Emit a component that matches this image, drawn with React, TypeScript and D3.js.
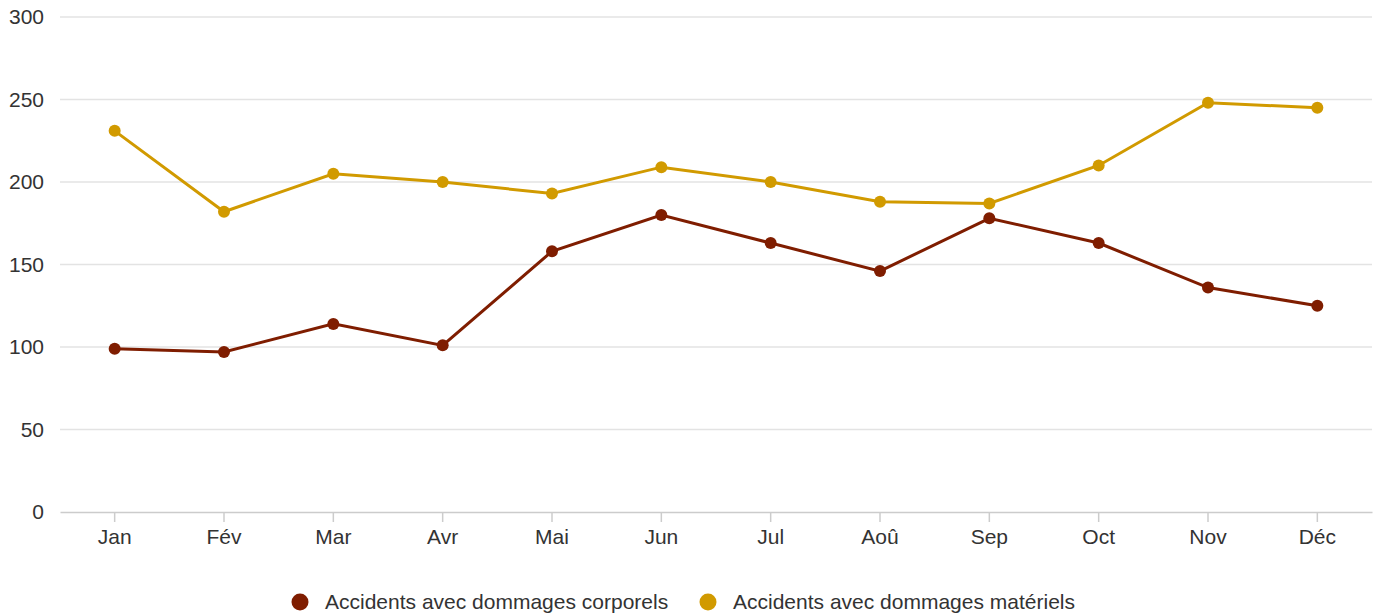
import React, { useRef, useEffect } from 'react';
import * as d3 from 'd3';

const months = ['Jan', 'Fév', 'Mar', 'Avr', 'Mai', 'Jun', 'Jul', 'Aoû', 'Sep', 'Oct', 'Nov', 'Déc'];
const corporels = [99, 97, 114, 101, 158, 180, 163, 146, 178, 163, 136, 125];
const materiels = [231, 182, 205, 200, 193, 209, 200, 188, 187, 210, 248, 245];
const yTicks = [0, 50, 100, 150, 200, 250, 300];

const seriesNames = ['Accidents avec dommages corporels', 'Accidents avec dommages matériels'];
const seriesColors = ['#7f1d00', '#d19a00'];

const width = 1377;
const height = 616;
const margin = { top: 17, right: 5, bottom: 104, left: 60 };

export default function App() {
  const svgRef = useRef<SVGSVGElement>(null);

  useEffect(() => {
    if (!svgRef.current) return;
    const svg = d3.select(svgRef.current);
    svg.selectAll('*').remove();

    const font = 'Liberation Sans, Arial, sans-serif';
    const innerW = width - margin.left - margin.right;
    const innerH = height - margin.top - margin.bottom;

    const x = d3.scaleBand().domain(months).range([0, innerW]);
    const y = d3.scaleLinear().domain([0, 300]).range([innerH, 0]);

    const g = svg.append('g').attr('transform', `translate(${margin.left},${margin.top})`);

    // gridlines
    g.selectAll('.grid')
      .data(yTicks.filter(t => t > 0))
      .enter()
      .append('line')
      .attr('x1', 0)
      .attr('x2', innerW)
      .attr('y1', d => y(d))
      .attr('y2', d => y(d))
      .attr('stroke', '#e3e3e3')
      .attr('stroke-width', 1.5);

    // y labels
    g.selectAll('.ylab')
      .data(yTicks)
      .enter()
      .append('text')
      .attr('x', -16)
      .attr('y', d => y(d))
      .attr('dy', '0.35em')
      .attr('text-anchor', 'end')
      .attr('font-family', font)
      .attr('font-size', 21)
      .attr('fill', '#333')
      .text(d => d);

    // x axis
    const xAxis = g.append('g')
      .attr('transform', `translate(0,${innerH})`)
      .call(d3.axisBottom(x).tickSize(10).tickSizeOuter(0).tickPadding(7));
    xAxis.select('.domain').attr('stroke', '#cccccc').attr('stroke-width', 1.5);
    xAxis.selectAll('.tick line').attr('stroke', '#cccccc').attr('stroke-width', 1.5);
    xAxis.selectAll('.tick text')
      .attr('font-family', font)
      .attr('font-size', 21)
      .attr('fill', '#333');

    const cx = (m: string) => (x(m) || 0) + x.bandwidth() / 2;
    const line = d3.line<number>()
      .x((_, i) => cx(months[i]))
      .y(d => y(d));

    [corporels, materiels].forEach((vals, si) => {
      g.append('path')
        .datum(vals)
        .attr('d', line)
        .attr('fill', 'none')
        .attr('stroke', seriesColors[si])
        .attr('stroke-width', 3);
      g.selectAll(`.pt${si}`)
        .data(vals)
        .enter()
        .append('circle')
        .attr('cx', (_, i) => cx(months[i]))
        .attr('cy', d => y(d))
        .attr('r', 6)
        .attr('fill', seriesColors[si]);
    });

    // legend
    const legendX = [300, 708];
    const legend = svg.append('g').attr('transform', `translate(0,602)`);
    seriesNames.forEach((name, i) => {
      legend.append('circle')
        .attr('cx', legendX[i])
        .attr('cy', 0)
        .attr('r', 8.5)
        .attr('fill', seriesColors[i]);
      legend.append('text')
        .attr('x', legendX[i] + 25)
        .attr('y', 0)
        .attr('dy', '0.35em')
        .attr('font-family', font)
        .attr('font-size', 21)
        .attr('fill', '#333')
        .text(name);
    });
  }, []);

  return (
    <div style={{ position: 'absolute', left: 0, top: 0 }}>
      <svg ref={svgRef} width={width} height={height} style={{ display: 'block', background: '#fff' }} />
    </div>
  );
}
